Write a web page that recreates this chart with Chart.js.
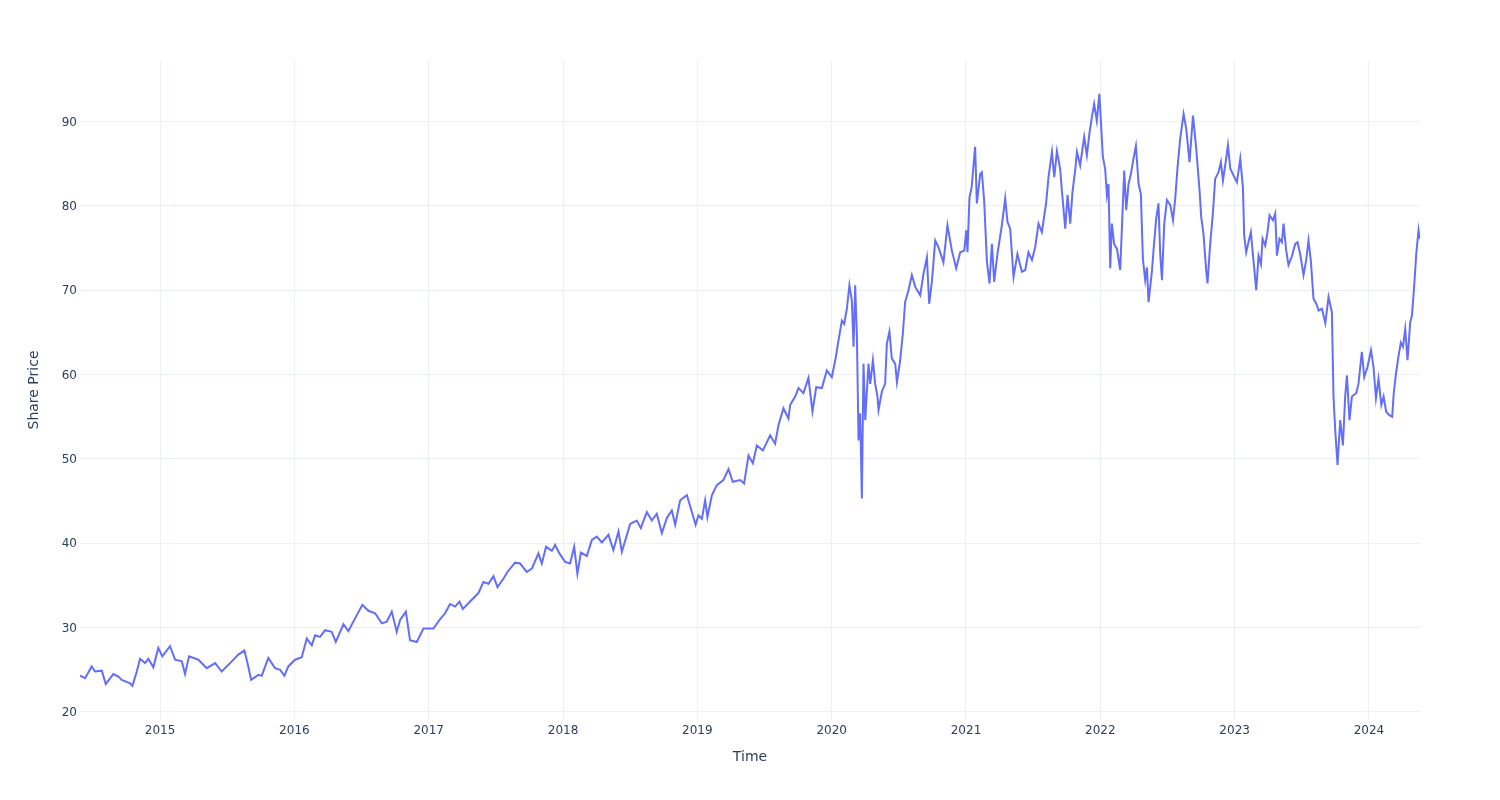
<!DOCTYPE html>
<html lang="en">
<head>
  <meta charset="UTF-8" />
  <title>Share Price</title>
  <script src="https://cdn.jsdelivr.net/npm/chart.js"></script>
  <style>
    body { margin: 0; background: #fff; }
    #wrap { width: 1500px; height: 800px; }
  </style>
</head>
<body>
  <div id="wrap">
    <canvas id="priceChart" width="1500" height="800"></canvas>
  </div>

  <script>
    // time as decimal years
    const timeYears = [
      2014.404, 2014.442, 2014.491, 2014.516, 2014.566, 2014.596, 2014.652, 2014.690, 2014.715, 2014.777,
      2014.794, 2014.827, 2014.851, 2014.888, 2014.913, 2014.950, 2014.987, 2015.017, 2015.074, 2015.112,
      2015.162, 2015.186, 2015.216, 2015.285, 2015.348, 2015.410, 2015.459, 2015.534, 2015.583, 2015.628,
      2015.657, 2015.678, 2015.732, 2015.757, 2015.806, 2015.856, 2015.894, 2015.926, 2015.955, 2016.005,
      2016.055, 2016.092, 2016.130, 2016.154, 2016.191, 2016.229, 2016.278, 2016.308, 2016.365, 2016.402,
      2016.452, 2016.506, 2016.551, 2016.601, 2016.651, 2016.688, 2016.725, 2016.762, 2016.787, 2016.830,
      2016.861, 2016.911, 2016.961, 2017.035,
      2017.085, 2017.122, 2017.159, 2017.197, 2017.229, 2017.254, 2017.308, 2017.370, 2017.407, 2017.445,
      2017.482, 2017.512, 2017.556, 2017.586, 2017.643, 2017.681, 2017.730, 2017.768, 2017.817, 2017.842,
      2017.874, 2017.917, 2017.941, 2017.973, 2018.016, 2018.053, 2018.083, 2018.107, 2018.133, 2018.177,
      2018.215, 2018.252, 2018.289, 2018.338, 2018.375, 2018.413, 2018.438, 2018.500, 2018.549, 2018.579,
      2018.624, 2018.661, 2018.698, 2018.736, 2018.773, 2018.810, 2018.835, 2018.872, 2018.922, 2018.952,
      2018.987, 2019.008, 2019.034, 2019.058, 2019.075, 2019.108, 2019.145, 2019.194, 2019.232, 2019.264,
      2019.319, 2019.348, 2019.381, 2019.413, 2019.443, 2019.488, 2019.542, 2019.579, 2019.604, 2019.641,
      2019.678, 2019.691, 2019.728, 2019.753, 2019.790, 2019.827, 2019.857, 2019.885, 2019.927, 2019.964,
      2020.001, 2020.030, 2020.043, 2020.076, 2020.093, 2020.113, 2020.132, 2020.150, 2020.163, 2020.175,
      2020.188, 2020.200, 2020.212, 2020.225, 2020.237, 2020.250, 2020.274, 2020.287, 2020.307, 2020.324,
      2020.341, 2020.349, 2020.374, 2020.398, 2020.411, 2020.430, 2020.448, 2020.473, 2020.486, 2020.510,
      2020.530, 2020.547, 2020.572, 2020.597, 2020.622, 2020.659, 2020.684, 2020.709, 2020.726, 2020.746,
      2020.771, 2020.795, 2020.832, 2020.862, 2020.895, 2020.927, 2020.957, 2020.987, 2021.002, 2021.011,
      2021.026, 2021.042, 2021.068, 2021.081, 2021.106, 2021.118, 2021.135, 2021.156, 2021.175, 2021.193,
      2021.210, 2021.234, 2021.267, 2021.292, 2021.309, 2021.329, 2021.354, 2021.383, 2021.416, 2021.441,
      2021.465, 2021.491, 2021.515, 2021.540, 2021.565, 2021.597, 2021.614, 2021.640, 2021.657, 2021.677,
      2021.701, 2021.714, 2021.739, 2021.756, 2021.776, 2021.793, 2021.813, 2021.826, 2021.850, 2021.880,
      2021.900, 2021.919, 2021.937, 2021.954, 2021.974, 2021.993,
      2022.019, 2022.036, 2022.049, 2022.061, 2022.074, 2022.086, 2022.103, 2022.124, 2022.148, 2022.161,
      2022.178, 2022.193, 2022.210, 2022.228, 2022.247, 2022.265, 2022.285, 2022.302, 2022.317, 2022.334,
      2022.347, 2022.359, 2022.384, 2022.396, 2022.416, 2022.433, 2022.446, 2022.459, 2022.476, 2022.496,
      2022.521, 2022.541, 2022.558, 2022.575, 2022.595, 2022.620, 2022.640, 2022.664, 2022.690, 2022.714,
      2022.739, 2022.751, 2022.768, 2022.789, 2022.798, 2022.818, 2022.838, 2022.855, 2022.880, 2022.898,
      2022.913, 2022.937, 2022.950, 2022.968, 2022.992, 2023.017, 2023.042, 2023.062,
      2023.071, 2023.086, 2023.103, 2023.121, 2023.141, 2023.161, 2023.178, 2023.196, 2023.208, 2023.228,
      2023.245, 2023.260, 2023.285, 2023.302, 2023.315, 2023.334, 2023.352, 2023.364, 2023.384, 2023.401,
      2023.426, 2023.451, 2023.468, 2023.488, 2023.513, 2023.533, 2023.550, 2023.568, 2023.587, 2023.608,
      2023.625, 2023.650, 2023.675, 2023.699, 2023.724, 2023.736, 2023.749, 2023.766, 2023.786, 2023.806,
      2023.823, 2023.836, 2023.855, 2023.873, 2023.905, 2023.922, 2023.947, 2023.965, 2023.989, 2024.015,
      2024.034, 2024.052, 2024.071, 2024.092, 2024.109, 2024.128, 2024.152, 2024.173, 2024.184, 2024.201,
      2024.219, 2024.237, 2024.253, 2024.270, 2024.287, 2024.307, 2024.320, 2024.337, 2024.352, 2024.369,
      2024.377
    ];

    const prices = [
      24.3, 24.0, 25.4, 24.8, 24.9, 23.3, 24.5, 24.2, 23.8, 23.4,
      23.1, 24.8, 26.3, 25.8, 26.3, 25.3, 27.6, 26.6, 27.8, 26.2,
      26.0, 24.5, 26.6, 26.2, 25.2, 25.8, 24.8, 26.0, 26.8, 27.3,
      25.4, 23.8, 24.4, 24.3, 26.4, 25.2, 25.0, 24.3, 25.4, 26.2,
      26.5, 28.7, 27.9, 29.1, 28.9, 29.7, 29.5, 28.3, 30.4, 29.6,
      31.1, 32.7, 32.0, 31.7, 30.5, 30.7, 31.9, 29.5, 30.9, 31.9,
      28.5, 28.3, 29.9, 29.9,
      31.0, 31.7, 32.8, 32.5, 33.1, 32.2, 33.1, 34.1, 35.4, 35.2,
      36.1, 34.8, 35.8, 36.6, 37.7, 37.6, 36.6, 37.0, 38.8, 37.6,
      39.6, 39.1, 39.8, 38.8, 37.8, 37.6, 39.6, 36.4, 38.9, 38.5,
      40.4, 40.8, 40.1, 41.0, 39.2, 41.4, 39.0, 42.3, 42.7, 41.8,
      43.7, 42.7, 43.5, 41.2, 43.0, 43.9, 42.2, 45.1, 45.7, 44.1,
      42.2, 43.3, 42.9, 45.1, 43.1, 45.7, 46.9, 47.5, 48.8, 47.3,
      47.5, 47.1, 50.4, 49.5, 51.6, 51.0, 52.8, 51.8, 54.0, 56.0,
      54.8, 56.4, 57.4, 58.4, 57.8, 59.6, 55.6, 58.5, 58.4, 60.5,
      59.7, 62.0, 63.3, 66.4, 66.0, 67.8, 70.6, 68.8, 63.3, 70.6,
      64.5, 52.2, 55.4, 45.3, 61.3, 54.6, 61.3, 58.9, 61.7, 58.9,
      57.4, 55.8, 58.0, 58.9, 63.7, 65.1, 61.9, 61.3, 59.1, 61.7,
      64.9, 68.6, 70.0, 71.8, 70.4, 69.4, 72.0, 73.9, 68.4, 71.0,
      75.9, 75.1, 73.3, 77.7, 74.7, 72.6, 74.5, 74.7, 77.1, 74.5,
      81.0, 82.2, 87.0, 80.3, 83.8, 84.0, 80.7, 73.4, 70.8, 75.5,
      71.0, 74.3, 77.7, 80.9, 78.1, 77.3, 71.6, 74.3, 72.2, 72.4,
      74.5, 73.6, 75.1, 77.9, 76.9, 80.4, 83.4, 86.4, 83.4, 86.5,
      84.4, 81.8, 77.3, 81.3, 77.9, 81.7, 84.2, 86.4, 84.8, 88.2,
      86.0, 88.6, 90.5, 92.1, 90.1, 93.3,
      85.8, 84.4, 81.3, 82.6, 72.6, 77.9, 75.5, 74.9, 72.4, 77.5,
      84.2, 79.5, 82.6, 83.8, 85.6, 87.1, 82.6, 81.4, 73.7, 71.2,
      72.7, 68.6, 72.2, 74.7, 78.5, 80.3, 74.3, 71.2, 77.9, 80.7,
      80.1, 78.3, 80.9, 84.6, 88.0, 90.9, 89.1, 85.2, 90.7, 86.8,
      81.8, 78.7, 76.7, 72.2, 70.8, 75.5, 79.1, 83.2, 84.0, 85.2,
      83.0, 85.6, 87.2, 84.4, 83.6, 82.8, 85.6, 82.1,
      76.5, 74.5, 75.7, 76.9, 73.4, 70.0, 74.1, 73.1, 76.1, 75.3,
      76.9, 78.9, 78.3, 79.1, 74.1, 76.1, 75.7, 77.9, 74.7, 73.0,
      74.0, 75.5, 75.7, 74.3, 71.8, 73.6, 75.9, 73.4, 69.0, 68.4,
      67.6, 67.8, 66.1, 69.2, 67.4, 57.4, 53.4, 49.3, 54.6, 51.6,
      57.4, 59.9, 54.6, 57.4, 57.8, 58.9, 62.7, 59.7, 60.9, 62.9,
      60.9, 57.2, 59.5, 56.4, 57.4, 55.6, 55.2, 55.0, 57.7, 60.1,
      62.1, 63.8, 63.3, 65.4, 61.7, 66.2, 67.0, 70.6, 74.3, 77.1,
      76.1
    ];

    const yearTicks = [2015, 2016, 2017, 2018, 2019, 2020, 2021, 2022, 2023, 2024];
    const priceTicks = [20, 30, 40, 50, 60, 70, 80, 90];

    const textColor = "#2a3f5f";
    const gridColor = "#EBF0F8";

    Chart.defaults.font.family = "'DejaVu Sans', Verdana, sans-serif";
    Chart.defaults.color = textColor;

    const points = timeYears.map((t, i) => ({ x: t, y: prices[i] }));

    const ctx = document.getElementById("priceChart").getContext("2d");
    new Chart(ctx, {
      type: "line",
      data: {
        datasets: [{
          data: points,
          borderColor: "#636efa",
          borderWidth: 2,
          pointRadius: 0,
          tension: 0,
          fill: false
        }]
      },
      options: {
        responsive: false,
        animation: false,
        layout: { padding: { top: 60, right: 80, left: 0, bottom: 0 } },
        plugins: {
          legend: { display: false },
          tooltip: { enabled: false }
        },
        scales: {
          x: {
            type: "linear",
            min: 2014.404,
            max: 2024.38,
            afterFit: s => { s.height = 80; },
            afterBuildTicks: s => { s.ticks = yearTicks.map(v => ({ value: v })); },
            grid: { color: gridColor, lineWidth: 1, drawTicks: false },
            border: { display: false },
            ticks: {
              padding: 4,
              maxRotation: 0,
              font: { size: 12 },
              callback: v => String(v)
            },
            title: {
              display: true,
              text: "Time",
              font: { size: 14 },
              padding: { top: 0, bottom: 34 }
            }
          },
          y: {
            min: 19.05,
            max: 97.3,
            afterFit: s => { s.width = 80; },
            afterBuildTicks: s => { s.ticks = priceTicks.map(v => ({ value: v })); },
            grid: { color: gridColor, lineWidth: 1, drawTicks: false },
            border: { display: false },
            ticks: {
              padding: 3,
              labelOffset: 1,
              font: { size: 12 },
              callback: v => String(v)
            },
            title: {
              display: true,
              text: "Share Price",
              font: { size: 14 },
              padding: { top: 26, bottom: 0 }
            }
          }
        }
      }
    });
  </script>
</body>
</html>
